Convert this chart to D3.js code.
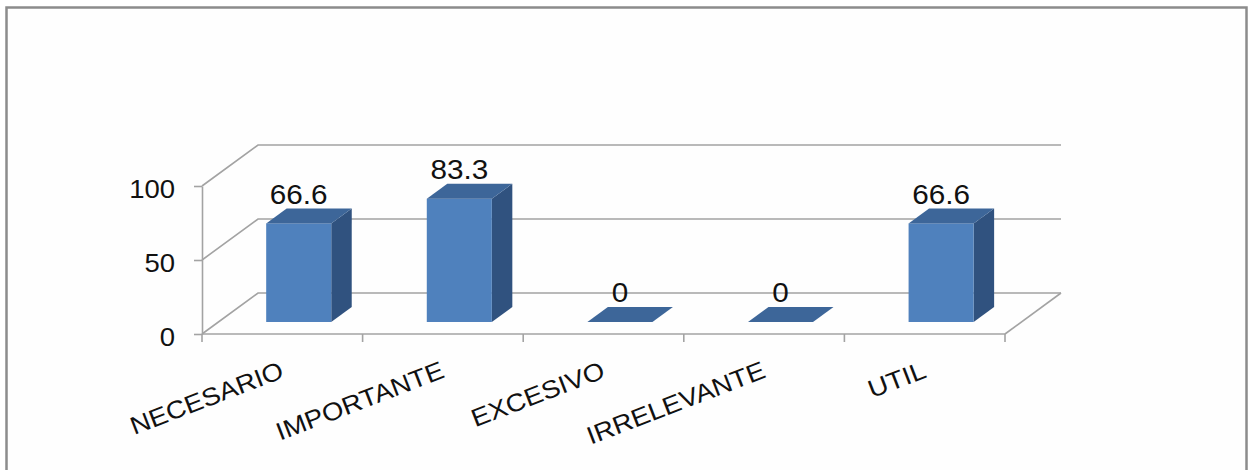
<!DOCTYPE html>
<html>
<head>
<meta charset="utf-8">
<script src="https://cdn.jsdelivr.net/npm/d3@7"></script>
<style>
  body { margin: 0; background: #ffffff; }
  text { font-family: "Liberation Sans", Arial, sans-serif; }
</style>
</head>
<body>
<div id="dataviz"></div>
<script>
// chart data
var categories = ["NECESARIO", "IMPORTANTE", "EXCESIVO", "IRRELEVANTE", "UTIL"];
var values = [66.6, 83.3, 0, 0, 66.6];
var yTicks = [0, 50, 100];

var W = 1250, H = 470;

var svg = d3.select("#dataviz")
  .append("svg")
    .attr("width", W)
    .attr("height", H);

// outer frame
svg.append("rect")
  .attr("x", 6.5).attr("y", 7.5)
  .attr("width", 1240).attr("height", 500)
  .attr("fill", "#fefefe")
  .attr("stroke", "#8c8c8c")
  .attr("stroke-width", 2.5);

// scales
var x = d3.scaleBand()
  .domain(categories)
  .range([202, 1005])
  .padding(0);

var y = d3.scaleLinear()
  .domain([0, 100])
  .range([334, 186]);

// depth of the 3d box (full depth offset)
var DX = 56, DY = -41;
function proj(px, py, d) { return [px + d * DX, py + d * DY]; }

var gridColor = "#a3a3a3";

// gridlines: diagonal on the side wall + horizontal on the back wall
var grid = svg.append("g");
yTicks.forEach(function(t) {
  var p0 = [x.range()[0], y(t)];
  var p1 = proj(p0[0], p0[1], 1);
  var p2 = proj(x.range()[1], y(t), 1);
  grid.append("path")
    .attr("d", "M" + p0 + "L" + p1 + "L" + p2)
    .attr("fill", "none")
    .attr("stroke", gridColor)
    .attr("stroke-width", 1.6);
});

// floor right edge
var fr0 = [x.range()[1], y(0)];
var fr1 = proj(fr0[0], fr0[1], 1);
grid.append("path")
  .attr("d", "M" + fr0 + "L" + fr1)
  .attr("stroke", gridColor)
  .attr("stroke-width", 1.6);

// y axis
var yAxis = svg.append("g")
  .attr("transform", "translate(" + x.range()[0] + ",0)")
  .call(d3.axisLeft(y).tickValues(yTicks).tickSize(8).tickSizeOuter(0).tickPadding(16.5));

yAxis.select(".domain").attr("stroke", gridColor).attr("stroke-width", 1.6);
yAxis.selectAll(".tick line").attr("stroke", gridColor).attr("stroke-width", 1.6);
yAxis.selectAll(".tick text")
  .attr("font-family", "Liberation Sans, Arial, sans-serif")
  .attr("font-size", 25)
  .attr("fill", "#111")
  .attr("dy", "0.45em")
  .attr("transform", "scale(1.1,1)");

// x axis: front floor line + ticks between categories
var xAxis = svg.append("g");
xAxis.append("line")
  .attr("x1", x.range()[0]).attr("x2", x.range()[1])
  .attr("y1", y(0)).attr("y2", y(0))
  .attr("stroke", gridColor).attr("stroke-width", 1.6);

var tickPos = categories.map(function(c) { return x(c); }).concat([x.range()[1]]);
xAxis.selectAll(".xtick")
  .data(tickPos)
  .enter()
  .append("line")
    .attr("x1", function(d) { return d; })
    .attr("x2", function(d) { return d; })
    .attr("y1", y(0))
    .attr("y2", y(0) + 8)
    .attr("stroke", gridColor)
    .attr("stroke-width", 1.6);

xAxis.selectAll(".xlabel")
  .data(categories)
  .enter()
  .append("text")
    .attr("transform", function(d) {
      return "translate(" + (x(d) + x.bandwidth() / 2 + 3) + ",377) rotate(-21) scale(1.1,1)";
    })
    .attr("text-anchor", "end")
    .attr("font-size", 25)
    .attr("fill", "#111")
    .text(function(d) { return d; });

// bars
var barFrac = 0.405;     // bar width / band
var frontD = 0.293;      // depth where bar front sits
var depthD = 0.366;      // bar depth as fraction of total depth
var bw = x.bandwidth() * barFrac;

var colFront = "#4f81bd", colTop = "#3d6699", colSide = "#30527f";

var bars = svg.append("g").selectAll(".bar")
  .data(categories.map(function(c, i) { return {cat: c, value: values[i]}; }))
  .enter()
  .append("g")
    .classed("bar", true);

bars.each(function(d) {
  var g = d3.select(this);
  var cx = x(d.cat) + x.bandwidth() / 2;
  var b = proj(cx - bw / 2, y(0), frontD);      // front bottom-left
  var t = proj(cx - bw / 2, y(d.value), frontD); // front top-left
  var xl = b[0], xr = b[0] + bw, yb = b[1], yt = t[1];
  var ddx = depthD * DX, ddy = depthD * DY;

  if (d.value > 0) {
    // side
    g.append("path")
      .attr("d", "M" + [xr, yb] + "L" + [xr + ddx, yb + ddy] + "L" + [xr + ddx, yt + ddy] + "L" + [xr, yt] + "Z")
      .attr("fill", colSide);
    // front
    g.append("rect")
      .attr("x", xl).attr("y", yt)
      .attr("width", bw).attr("height", yb - yt)
      .attr("fill", colFront);
  }
  // top
  g.append("path")
    .attr("d", "M" + [xl, yt] + "L" + [xl + ddx, yt + ddy] + "L" + [xr + ddx, yt + ddy] + "L" + [xr, yt] + "Z")
    .attr("fill", colTop);

  // value label
  g.append("text")
    .attr("transform", "translate(" + (xl + bw / 2) + "," + (yt - 19.5) + ") scale(1.1,1)")
    .attr("text-anchor", "middle")
    .attr("font-size", 27)
    .attr("fill", "#111")
    .text(d.value);
});
</script>
</body>
</html>
